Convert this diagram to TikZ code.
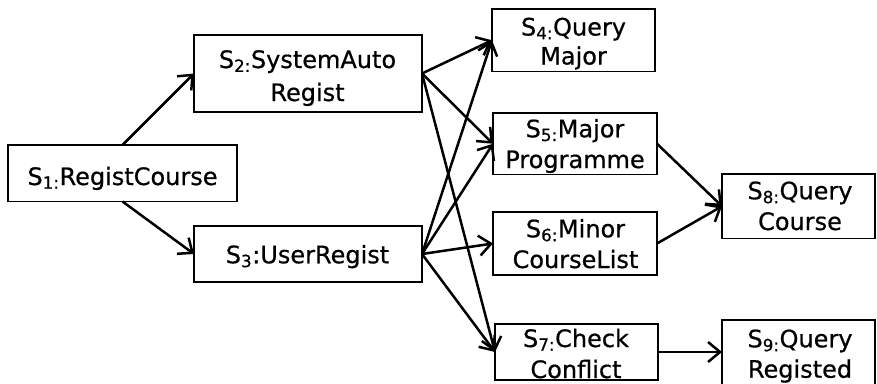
\documentclass[tikz,border=0pt]{standalone}
\usepackage{fontspec}
\setmainfont{DejaVu Sans}[FakeBold=0.6]
\usetikzlibrary{arrows.meta}
% fixed line height / depth so every label is centred the same way
\newcommand\lnTop{\rule{0pt}{18.5pt}}
\newcommand\lnBot{\rule[-6pt]{0pt}{6pt}}
\tikzset{
  box/.style={draw, line width=1.9pt, rectangle, inner sep=0pt, outer sep=0pt},
  txt/.style={inner sep=0pt, outer sep=0pt, align=center,
    font=\fontsize{24}{#1}\selectfont},
  txt/.default=31,
  flow/.style={line width=2.5pt,
    -{Straight Barb[length=12pt,width=20pt,line width=2.5pt]}}
}
\begin{document}
\begin{tikzpicture}[x=1pt,y=-1pt]
\useasboundingbox (0,0) rectangle (877,383);
\clip (0,0) rectangle (877,383);
% state boxes
\node[box, minimum width=229pt, minimum height=56.5pt] (s1) at (122.5,173.25) {};
\node[box, minimum width=228pt, minimum height=77pt]   (s2) at (308,73.5) {};
\node[box, minimum width=228pt, minimum height=56pt]   (s3) at (308,254) {};
\node[box, minimum width=163pt, minimum height=62.5pt] (s4) at (573.5,40.25) {};
\node[box, minimum width=164pt, minimum height=61.5pt] (s5) at (575,143.75) {};
\node[box, minimum width=164pt, minimum height=63pt]   (s6) at (575,243.5) {};
\node[box, minimum width=163pt, minimum height=56pt]   (s7) at (576.5,352) {};
\node[box, minimum width=153pt, minimum height=64.5pt] (s8) at (798.5,206.25) {};
\node[box, minimum width=153pt, minimum height=74pt]   (s9) at (798.5,357) {};
% state labels
\node[txt] (t1) at (122.5,178.75) {\lnTop S\textsubscript{1:}RegistCourse\lnBot};
\node[txt=33] (t2) at (307.5,78.25) {\lnTop S\textsubscript{2:}SystemAuto\\Regist\lnBot};
\node[txt] (t3) at (307.5,257) {\lnTop S\textsubscript{3}:UserRegist\lnBot};
\node[txt=29] (t4) at (573.5,43.75) {\lnTop S\textsubscript{4:}Query\\Major\lnBot};
\node[txt=30.7] (t5) at (575,146.4) {\lnTop S\textsubscript{5:}Major\\Programme\lnBot};
\node[txt=30.7] (t6) at (575.5,246.4) {\lnTop S\textsubscript{6:}Minor\\CourseList\lnBot};
\node[txt] (t7) at (576,356.25) {\lnTop S\textsubscript{7:}Check\\Conflict\lnBot};
\node[txt=30.7] (t8) at (800,208.4) {\lnTop S\textsubscript{8:}Query\\Course\lnBot};
\node[txt=30.4] (t9) at (800,356.25) {\lnTop S\textsubscript{9:}Query\\Registed\lnBot};
% transitions
\draw[flow] (s1.north) -- (s2.west);
\draw[flow] (s1.south) -- (s3.west);
\draw[flow] (s2.east) -- (s4.west);
\draw[flow] (s2.east) -- (s5.west);
\draw[flow] (s2.east) -- (s7.west);
\draw[flow] (s3.east) -- (s4.west);
\draw[flow] (s3.east) -- (s5.west);
\draw[flow] (s3.east) -- (s6.west);
\draw[flow] (s3.east) -- (s7.west);
\draw[flow] (s5.east) -- (s8.west);
\draw[flow] (s6.east) -- (s8.west);
\draw[flow] (s7.east) -- (s7.east -| s9.west);
\end{tikzpicture}
\end{document}
